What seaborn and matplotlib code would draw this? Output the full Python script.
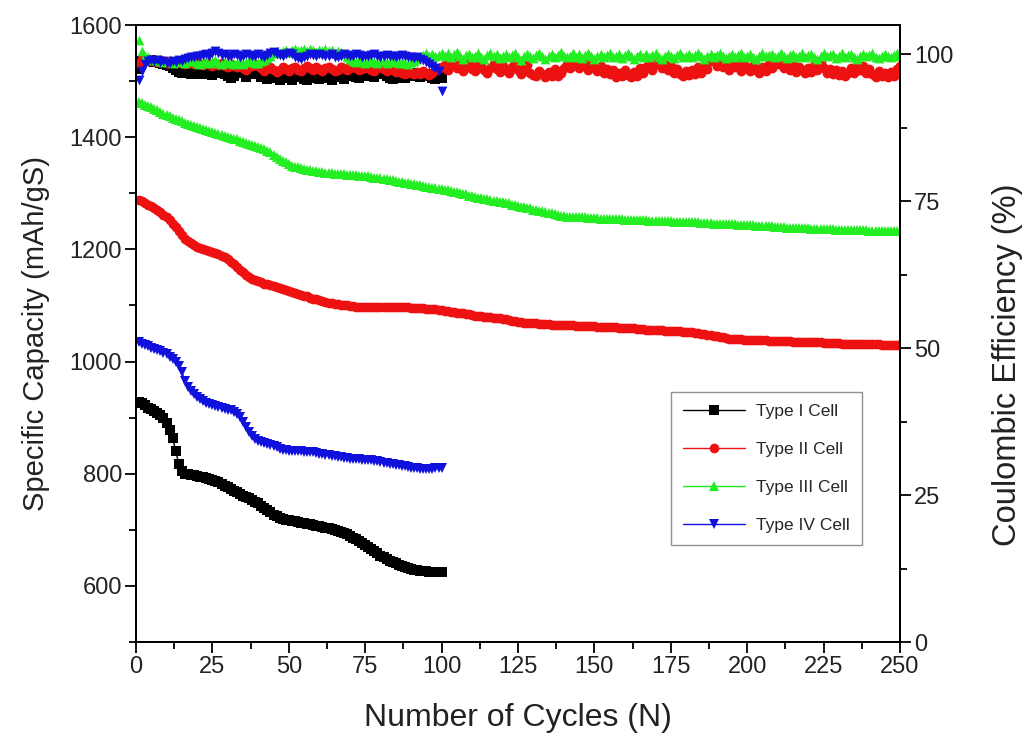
import numpy as np
import pandas as pd
import seaborn as sns
import matplotlib
matplotlib.use("Agg")
import matplotlib.pyplot as plt
from matplotlib.ticker import MultipleLocator

# specific capacity (mAh/gS), one value per cycle
cap_type1 = [928, 926, 922, 918, 915, 912, 908, 904, 899, 890,
             878, 864, 840, 818, 805, 800, 799, 798, 797, 796,
             795, 794, 793, 791, 789, 787, 785, 782, 779, 776,
             773, 770, 767, 764, 761, 759, 756, 753, 750, 747,
             743, 739, 735, 731, 727, 724, 721, 719, 718, 717,
             716, 715, 714, 713, 712, 711, 710, 708, 707, 706,
             705, 704, 703, 701, 700, 698, 696, 694, 692, 689,
             686, 683, 680, 676, 673, 669, 666, 662, 658, 654,
             651, 648, 645, 642, 640, 638, 636, 634, 632, 630,
             629, 628, 627, 626, 626, 625, 625, 625, 625, 625]

cap_type4 = [1035, 1032, 1029, 1027, 1025, 1023, 1021, 1019, 1016, 1013,
             1009, 1004, 999, 992, 982, 966, 955, 948, 942, 937,
             933, 930, 927, 925, 923, 921, 919, 917, 916, 914,
             913, 910, 906, 901, 893, 884, 874, 867, 862, 859,
             857, 855, 853, 851, 849, 847, 845, 843, 842, 841,
             841, 840, 840, 840, 839, 839, 839, 838, 837, 836,
             835, 834, 833, 832, 831, 830, 829, 828, 828, 827,
             827, 826, 826, 825, 825, 824, 824, 823, 822, 821,
             820, 819, 818, 817, 816, 815, 814, 813, 812, 811,
             810, 810, 809, 809, 809, 809, 809, 810, 810, 811]

cap_type2 = [1288, 1286, 1283, 1280, 1277, 1274, 1270, 1266, 1262, 1257,
             1252, 1246, 1240, 1233, 1226, 1219, 1215, 1211, 1208, 1205,
             1203, 1201, 1199, 1197, 1195, 1193, 1191, 1189, 1186, 1182,
             1178, 1174, 1169, 1164, 1159, 1154, 1150, 1147, 1145, 1143,
             1141, 1139, 1139, 1137, 1135, 1133, 1131, 1129, 1128, 1126,
             1124, 1123, 1121, 1119, 1117, 1116, 1114, 1112, 1111, 1109,
             1108, 1106, 1105, 1104, 1103, 1102, 1101, 1100, 1100, 1099,
             1099, 1098, 1098, 1098, 1098, 1098, 1098, 1098, 1098, 1098,
             1097, 1097, 1097, 1097, 1097, 1097, 1097, 1097, 1097, 1096,
             1096, 1096, 1095, 1095, 1094, 1094, 1093, 1093, 1092, 1092,
             1091, 1090, 1089, 1088, 1087, 1087, 1086, 1085, 1084, 1083,
             1082, 1082, 1081, 1080, 1079, 1079, 1078, 1077, 1077, 1076,
             1075, 1074, 1073, 1072, 1071, 1070, 1069, 1069, 1068, 1068,
             1068, 1067, 1067, 1067, 1067, 1066, 1066, 1066, 1066, 1065,
             1065, 1065, 1065, 1064, 1064, 1064, 1064, 1063, 1063, 1063,
             1062, 1062, 1062, 1062, 1061, 1061, 1061, 1060, 1060, 1060,
             1059, 1059, 1059, 1058, 1058, 1058, 1057, 1057, 1057, 1056,
             1056, 1056, 1055, 1055, 1055, 1054, 1054, 1054, 1053, 1053,
             1052, 1052, 1051, 1051, 1050, 1049, 1048, 1047, 1046, 1045,
             1044, 1043, 1042, 1041, 1041, 1040, 1040, 1040, 1039, 1039,
             1039, 1039, 1038, 1038, 1038, 1038, 1037, 1037, 1037, 1037,
             1036, 1036, 1036, 1036, 1035, 1035, 1035, 1035, 1035, 1034,
             1034, 1034, 1034, 1034, 1033, 1033, 1033, 1033, 1033, 1033,
             1032, 1032, 1032, 1032, 1032, 1032, 1031, 1031, 1031, 1031,
             1031, 1031, 1031, 1030, 1030, 1030, 1030, 1030, 1030, 1030]

cap_type3 = [1463, 1461, 1458, 1456, 1453, 1450, 1448, 1445, 1442, 1440,
             1437, 1434, 1432, 1430, 1428, 1426, 1424, 1422, 1420, 1419,
             1417, 1415, 1413, 1411, 1409, 1408, 1406, 1404, 1403, 1401,
             1399, 1397, 1396, 1394, 1392, 1390, 1388, 1386, 1385, 1383,
             1381, 1379, 1376, 1373, 1369, 1365, 1361, 1358, 1355, 1352,
             1349, 1347, 1346, 1345, 1344, 1342, 1341, 1340, 1339, 1338,
             1338, 1337, 1336, 1336, 1335, 1335, 1334, 1334, 1333, 1333,
             1332, 1332, 1331, 1331, 1330, 1330, 1329, 1328, 1328, 1327,
             1326, 1325, 1324, 1323, 1322, 1321, 1320, 1319, 1318, 1317,
             1316, 1315, 1314, 1313, 1312, 1311, 1310, 1309, 1308, 1307,
             1306, 1305, 1304, 1303, 1302, 1300, 1299, 1298, 1296, 1295,
             1294, 1292, 1291, 1290, 1289, 1288, 1287, 1286, 1285, 1284,
             1283, 1282, 1280, 1279, 1278, 1276, 1275, 1274, 1273, 1271,
             1270, 1269, 1268, 1266, 1265, 1264, 1263, 1262, 1260, 1259,
             1258, 1258, 1258, 1257, 1257, 1257, 1257, 1256, 1256, 1256,
             1256, 1255, 1255, 1255, 1255, 1254, 1254, 1254, 1254, 1253,
             1253, 1253, 1253, 1252, 1252, 1252, 1252, 1251, 1251, 1251,
             1251, 1250, 1250, 1250, 1250, 1249, 1249, 1249, 1249, 1248,
             1248, 1248, 1248, 1248, 1247, 1247, 1247, 1247, 1246, 1246,
             1246, 1246, 1246, 1245, 1245, 1245, 1244, 1244, 1244, 1243,
             1243, 1243, 1242, 1242, 1242, 1241, 1241, 1241, 1240, 1240,
             1240, 1240, 1239, 1239, 1239, 1239, 1238, 1238, 1238, 1238,
             1237, 1237, 1237, 1237, 1236, 1236, 1236, 1236, 1235, 1235,
             1235, 1235, 1235, 1234, 1234, 1234, 1234, 1234, 1234, 1233,
             1233, 1233, 1233, 1233, 1233, 1233, 1232, 1232, 1232, 1232]

# coulombic efficiency (%), one value per cycle
ce_type1 = [97.5, 98.8, 99.0, 98.9, 99.1, 98.7, 98.9, 98.6, 98.4, 98.2,
            98.0, 97.6, 97.3, 97.0, 96.8, 96.9, 97.1, 96.7, 96.9, 96.8,
            96.6, 96.9, 97.0, 96.7, 96.5, 96.8, 96.9, 97.2, 96.6, 96.4,
            95.9, 96.3, 96.8, 97.0, 96.9, 96.2, 96.8, 96.6, 97.3, 96.9,
            96.1, 96.5, 95.8, 95.9, 96.6, 96.2, 95.7, 96.0, 96.4, 95.9,
            95.6, 96.2, 96.7, 96.3, 95.8, 95.7, 96.1, 96.5, 95.9, 95.8,
            96.3, 96.6, 96.0, 95.7, 96.2, 96.7, 96.1, 95.8, 96.4, 96.8,
            96.5, 96.2, 96.0, 96.3, 96.9, 96.7, 96.4, 96.1, 96.8, 97.0,
            96.6, 96.3, 95.9, 95.8, 96.2, 96.5, 96.0, 95.9, 96.3, 96.6,
            96.8, 96.4, 96.1, 96.5, 96.7, 96.3, 96.0, 95.8, 96.2, 96.0]

ce_type4 = [95.6, 97.2, 98.4, 98.9, 99.1, 98.8, 99.0, 98.7, 98.9, 98.6,
            98.5, 98.8, 98.7, 99.0, 98.9, 99.2, 99.4, 99.6, 99.5, 99.8,
            99.7, 99.9, 100.1, 99.8, 100.3, 100.5, 100.2, 99.9, 100.0, 99.7,
            99.8, 100.0, 99.9, 99.6, 99.8, 100.1, 99.9, 99.7, 99.8, 100.0,
            99.8, 99.6, 99.9, 100.2, 100.4, 100.1, 99.9, 99.7, 100.0, 100.3,
            100.1, 99.6, 99.4, 99.3, 99.5, 99.8, 100.0, 99.9, 99.8, 100.1,
            99.9, 99.7, 99.8, 100.0, 99.6, 99.5, 99.8, 100.0, 99.9, 99.7,
            99.8, 100.1, 99.9, 99.6, 99.8, 99.7, 99.9, 100.0, 99.8, 99.6,
            99.7, 99.9, 99.8, 99.7, 99.6, 99.8, 99.9, 99.7, 99.5, 99.6,
            99.4, 99.5, 99.2, 99.0, 98.7, 98.4, 98.0, 97.6, 97.1, 93.8]

ce_type2 = [98.6, 99.2, 99.0, 98.8, 99.1, 98.9, 98.7, 99.0, 98.8, 98.6,
            98.9, 98.7, 98.5, 98.8, 98.6, 98.4, 98.7, 98.5, 98.3, 98.6,
            98.4, 98.2, 98.5, 98.3, 98.0, 98.4, 98.2, 98.5, 98.1, 97.9,
            98.3, 98.0, 97.8, 98.2, 97.6, 97.4, 97.8, 98.1, 98.4, 98.0,
            97.7, 97.2, 97.5, 97.9, 97.3, 97.0, 97.4, 97.8, 97.5, 97.1,
            97.6, 97.9, 97.4, 97.2, 97.7, 98.0, 97.6, 97.3, 97.8, 97.5,
            97.2, 97.6, 97.9, 97.5, 97.1, 97.4, 97.8, 97.6, 97.3, 97.7,
            98.0, 97.6, 97.3, 97.5, 97.9, 97.7, 97.4, 97.2, 97.6, 97.8,
            97.5, 97.2, 97.6, 97.3, 97.0, 97.4, 96.9, 96.7, 97.1, 96.8,
            96.6, 97.0, 96.7, 97.2, 96.8, 96.5, 96.9, 97.3, 97.6, 97.9,
            98.2, 97.4, 98.1, 98.6, 97.6, 98.3, 97.2, 98.0, 98.7, 97.5,
            97.1, 98.2, 98.6, 97.4, 96.9, 97.7, 98.4, 97.5, 97.0, 98.1,
            97.4, 96.8, 97.9, 98.5, 97.3, 96.7, 97.6, 98.2, 96.9, 96.5,
            96.3, 97.2, 96.6, 96.1, 97.0, 96.4, 97.5, 96.3, 96.8, 97.6,
            98.4, 97.7, 99.0, 98.2, 97.6, 99.1, 98.0, 97.4, 98.6, 97.9,
            97.2, 98.1, 96.9, 97.5, 96.6, 97.3, 96.2, 96.8, 96.4, 97.4,
            96.5, 96.1, 97.0, 96.4, 97.6, 96.9, 97.8, 98.5, 97.4, 98.3,
            98.8, 97.7, 98.4, 97.3, 98.1, 96.9, 97.5, 96.6, 96.3, 97.1,
            96.5, 97.3, 96.7, 97.8, 96.9, 98.2, 97.5, 98.9, 99.4, 98.1,
            99.1, 97.9, 98.5, 97.4, 98.7, 97.8, 98.4, 97.2, 98.3, 97.6,
            97.1, 98.0, 97.3, 96.9, 97.8, 97.2, 98.4, 97.6, 99.0, 98.3,
            98.8, 97.7, 98.5, 97.4, 98.2, 97.0, 97.9, 97.3, 96.8, 97.7,
            97.0, 98.1, 97.4, 98.6, 97.6, 96.9, 97.5, 96.6, 97.3, 96.5,
            97.1, 96.3, 96.9, 97.6, 96.8, 98.2, 97.3, 98.0, 96.9, 97.5,
            96.7, 96.2, 97.1, 96.3, 96.8, 96.1, 97.0, 96.4, 97.5, 98.0]

ce_type3 = [102.4, 100.6, 99.8, 99.5, 99.2, 99.0, 99.3, 98.9, 98.7, 98.8,
            99.1, 98.6, 98.8, 99.0, 98.7, 98.5, 98.9, 99.2, 98.8, 98.6,
            98.4, 98.7, 98.9, 98.5, 98.8, 99.0, 98.6, 98.4, 98.7, 98.9,
            98.5, 98.3, 98.6, 98.8, 98.4, 98.7, 98.9, 99.1, 98.6, 98.5,
            98.8, 99.0, 99.4, 99.8, 100.2, 100.5, 100.3, 100.6, 100.8, 100.4,
            100.7, 100.9, 100.5, 100.8, 101.0, 100.6, 100.9, 100.7, 100.4, 100.8,
            100.6, 100.9, 100.5, 100.7, 100.3, 100.6, 100.4, 100.1, 99.6, 99.2,
            98.9, 98.7, 99.0, 98.8, 98.6, 98.9, 99.1, 98.7, 98.5, 98.8,
            99.0, 98.6, 98.8, 99.1, 98.7, 98.5, 98.9, 98.6, 98.4, 98.7,
            98.9, 99.2, 99.6, 99.9, 100.2, 99.8, 100.1, 99.7, 99.9, 100.3,
            99.8, 100.2, 99.6, 100.0, 100.4, 99.7, 99.3, 99.9, 100.1, 99.5,
            99.8, 100.3, 99.6, 99.2, 99.9, 100.2, 99.7, 100.0, 99.4, 99.8,
            100.1, 99.5, 99.9, 100.3, 99.6, 99.1, 99.7, 100.0, 99.8, 99.4,
            99.9, 100.2, 99.7, 99.3, 99.8, 100.1, 99.6, 99.9, 100.4, 99.7,
            99.5, 99.8, 100.2, 99.6, 100.0, 99.4, 99.9, 100.3, 99.7, 99.2,
            99.8, 100.1, 99.6, 99.9, 100.3, 99.5, 99.8, 100.0, 99.4, 99.9,
            100.2, 99.7, 99.3, 99.8, 100.1, 99.6, 100.0, 99.5, 99.9, 100.3,
            99.6, 99.2, 99.8, 100.0, 99.7, 99.4, 99.9, 100.2, 99.6, 99.8,
            100.1, 99.5, 99.9, 100.3, 99.7, 99.3, 99.8, 100.0, 99.6, 99.9,
            100.2, 99.7, 99.4, 99.8, 100.1, 99.6, 99.9, 100.3, 99.5, 99.8,
            100.0, 99.6, 99.2, 99.8, 100.2, 99.7, 99.9, 100.1, 99.5, 99.8,
            100.3, 99.7, 99.4, 99.9, 100.0, 99.6, 99.8, 100.2, 99.5, 99.9,
            100.1, 99.6, 99.3, 99.8, 100.2, 99.7, 99.9, 100.0, 99.4, 99.8,
            100.3, 99.6, 99.9, 100.1, 99.5, 99.2, 99.8, 100.0, 99.7, 99.9,
            100.2, 99.6, 99.4, 99.8, 100.1, 99.7, 99.5, 99.9, 100.2, 99.8]

labels = ["Type I Cell", "Type II Cell", "Type III Cell", "Type IV Cell"]
colors = ["#000000", "#ee1111", "#22ee22", "#1111dd"]
markers = ["s", "o", "^", "v"]

sns.set_theme(style="ticks")
plt.rcParams["font.family"] = ["Liberation Sans", "DejaVu Sans"]

fig = plt.figure(figsize=(10.24, 7.40), dpi=100)
ax1 = fig.add_axes([0.1328, 0.1324, 0.7461, 0.8338])
ax2 = ax1.twinx()

caps = [cap_type1, cap_type2, cap_type3, cap_type4]
ces = [ce_type1, ce_type2, ce_type3, ce_type4]

for cap, lab, col, mk in zip(caps, labels, colors, markers):
    df = pd.DataFrame({"cycle": np.arange(1, len(cap) + 1), "cap": cap})
    sns.lineplot(data=df, x="cycle", y="cap", ax=ax1, color=col, marker=mk,
                 markersize=7, markeredgewidth=0, linewidth=1, label=lab)

for ce, col, mk in zip(ces, colors, markers):
    df = pd.DataFrame({"cycle": np.arange(1, len(ce) + 1), "ce": ce})
    sns.scatterplot(data=df, x="cycle", y="ce", ax=ax2, color=col, marker=mk,
                    s=50, linewidth=0, legend=False)

handles, labs = ax1.get_legend_handles_labels()
if ax1.get_legend() is not None:
    ax1.get_legend().remove()

ax1.set_xlim(0, 250)
ax1.set_ylim(500, 1600)
ax2.set_ylim(0, 105)

ax1.xaxis.set_major_locator(MultipleLocator(25))
ax1.xaxis.set_minor_locator(MultipleLocator(12.5))
ax1.yaxis.set_major_locator(MultipleLocator(200))
ax1.yaxis.set_minor_locator(MultipleLocator(100))
ax2.yaxis.set_major_locator(MultipleLocator(25))
ax2.yaxis.set_minor_locator(MultipleLocator(12.5))
ax1.set_yticks([600, 800, 1000, 1200, 1400, 1600])

for ax in (ax1, ax2):
    ax.tick_params(which="major", direction="out", length=8, width=1.3,
                   labelsize=17, pad=2, color="black", labelcolor="#222222")
    ax.tick_params(which="minor", direction="out", length=5, width=1.3,
                   color="black")
    for sp in ax.spines.values():
        sp.set_linewidth(1.4)
        sp.set_color("black")
        sp.set_visible(True)

ax1.set_xlabel("Number of Cycles (N)", fontsize=23, color="#222222", labelpad=18)
ax1.set_ylabel("Specific Capacity (mAh/gS)", fontsize=21, color="#222222", labelpad=14)
ax2.set_ylabel("Coulombic Efficiency (%)", fontsize=23.5, color="#222222")
ax2.yaxis.set_label_coords(1.12, 0.45)

leg = ax2.legend(handles, labs, loc="upper right", bbox_to_anchor=(0.95, 0.405),
                 borderaxespad=0, fontsize=12.5, frameon=True, fancybox=False,
                 edgecolor="#777777", handlelength=3.6, handletextpad=0.6,
                 labelspacing=1.3, borderpad=0.7)
leg.get_frame().set_linewidth(1.0)

fig.savefig("out.png", dpi=100)
